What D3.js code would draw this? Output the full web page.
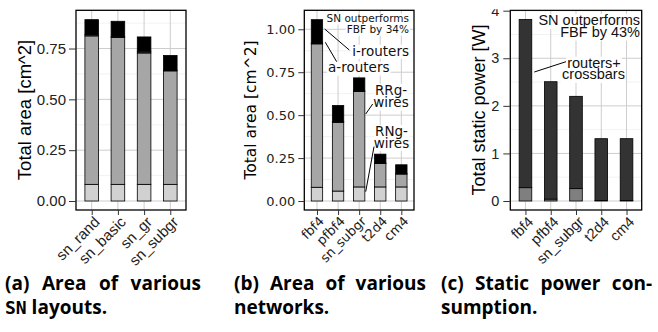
<!DOCTYPE html>
<html>
<head>
<meta charset="utf-8">
<script src="https://cdn.jsdelivr.net/npm/d3@7"></script>
<style>
  body { margin: 0; background: #fff; width: 658px; height: 332px; overflow: hidden; position: relative; }
  .cap { position: absolute; font-family: 'Open Sans', 'Noto Sans', sans-serif; font-weight: bold; font-size: 19px; line-height: 24px; color: #000; }
  .cap .l1 { text-align: justify; text-align-last: justify; white-space: nowrap; }
  .tt { font-family: 'DejaVu Sans Mono', monospace; font-size: 18px; }
</style>
</head>
<body>
<svg id="chart" width="658" height="332"></svg>
<div class="cap" style="left:5px; top:271px; width:196px"><div class="l1">(a) Area of various</div><div><span class="tt">SN</span> layouts.</div></div>
<div class="cap" style="left:234px; top:271px; width:192px"><div class="l1">(b) Area of various</div><div>networks.</div></div>
<div class="cap" style="left:441px; top:271px; width:211px"><div class="l1">(c) Static power con-</div><div>sumption.</div></div>
<script>
// (a) area of SN layouts [cm^2]
const layoutsA = ['sn_rand', 'sn_basic', 'sn_gr', 'sn_subgr']
const aRNgWires = [0.082, 0.082, 0.082, 0.082]
const aRRgWires = [0.730, 0.722, 0.646, 0.558]
const aARouters = [0.007, 0.006, 0.009, 0.003]
const aIRouters = [0.073, 0.074, 0.070, 0.073]

// (b) area of networks [cm^2]
const netsB = ['fbf4', 'pfbf4', 'sn_subgr', 't2d4', 'cm4']
const bRNgWires = [0.080, 0.058, 0.082, 0.082, 0.082]
const bRRgWires = [0.835, 0.400, 0.556, 0.137, 0.075]
const bARouters = [0.005, 0.005, 0.003, 0.002, 0.002]
const bIRouters = [0.136, 0.093, 0.076, 0.052, 0.052]

// (c) static power [W]
const netsC = ['fbf4', 'pfbf4', 'sn_subgr', 't2d4', 'cm4']
const cWires = [0.28, 0.04, 0.26, 0.01, 0.01]
const cRouters = [3.537, 2.467, 1.94, 1.30, 1.30]

const areaTicks = [0, 0.25, 0.5, 0.75, 1.0]
const areaMinor = [0.125, 0.375, 0.625, 0.875]
const powerTicks = [0, 1, 2, 3, 4]
const powerMinor = [0.5, 1.5, 2.5, 3.5]

const svg = d3.select('#chart')

function drawPanel(opt) {
    const g = svg.append('g')
    if (opt.clipTop != null) {
        const id = 'clip' + Math.round(opt.x0)
        svg.append('clipPath').attr('id', id)
            .append('rect').attr('x', opt.x0 - 80).attr('y', opt.clipTop).attr('width', 300).attr('height', 400)
        g.attr('clip-path', 'url(#' + id + ')')
    }
    const top = 10.3, bottom = 210
    const x = d3.scalePoint().domain(opt.cats).range([opt.x0, opt.x1]).padding(0.6)
    const y = d3.scaleLinear().domain(opt.yDomain).range([bottom, top])
    const bw = x.step() * opt.barFrac

    // ticks whose line falls on the panel (the top one may sit on the border)
    const inside = (v) => v >= opt.yDomain[0] && v <= opt.yDomain[1] + 0.01

    // grid
    g.selectAll('.minor').data(opt.minor.filter(inside)).enter().append('line')
        .attr('x1', opt.x0).attr('x2', opt.x1)
        .attr('y1', (d) => y(d)).attr('y2', (d) => y(d))
        .attr('stroke', '#ececec').attr('stroke-width', 0.7)
    g.selectAll('.major').data(opt.ticks.filter(inside)).enter().append('line')
        .attr('x1', opt.x0).attr('x2', opt.x1)
        .attr('y1', (d) => y(d)).attr('y2', (d) => y(d))
        .attr('stroke', '#cdcdcd').attr('stroke-width', 1)
    g.selectAll('.vgrid').data(opt.cats).enter().append('line')
        .attr('x1', (d) => x(d)).attr('x2', (d) => x(d))
        .attr('y1', top).attr('y2', bottom)
        .attr('stroke', '#cdcdcd').attr('stroke-width', 1)

    // bars
    const table = opt.cats.map((c, i) => {
        const row = { cat: c }
        opt.keys.forEach((k, j) => { row[k] = opt.series[j][i] })
        return row
    })
    const stacked = d3.stack().keys(opt.keys)(table)
    g.selectAll('.layer').data(stacked).enter().append('g')
        .attr('fill', (d, i) => opt.colors[i])
        .selectAll('rect')
        .data((d) => d)
        .enter().append('rect')
        .attr('x', (d) => x(d.data.cat) - bw / 2)
        .attr('width', bw)
        .attr('y', (d) => y(d[1]))
        .attr('height', (d) => y(d[0]) - y(d[1]))
        .attr('stroke', '#000')
        .attr('stroke-width', 0.8)

    // annotations: white label boxes first, then leader lines and text
    const ann = g.append('g').attr('font-family', opt.font)
    const boxes = ann.append('g')
    opt.lines.forEach((l) => {
        ann.append('line')
            .attr('x1', l[0]).attr('y1', l[1]).attr('x2', l[2]).attr('y2', l[3])
            .attr('stroke', '#000').attr('stroke-width', 1)
    })
    opt.labels.forEach((l) => {
        // one text element per label, one tspan per line
        const t = ann.append('text')
            .attr('text-anchor', l.anchor)
            .attr('font-size', l.size)
            .attr('fill', '#111')
        l.lines.forEach((s, i) => {
            const tsp = t.append('tspan')
                .attr('x', l.xs[i]).attr('y', l.ys[i])
                .text(s)
            const len = tsp.node().getComputedTextLength()
            const left = l.anchor === 'end' ? l.xs[i] - len : l.anchor === 'middle' ? l.xs[i] - len / 2 : l.xs[i]
            boxes.append('rect')
                .attr('x', left - 1).attr('y', l.ys[i] - l.size * 0.8)
                .attr('width', len + 2).attr('height', l.size * 1.05)
                .attr('fill', '#fff')
        })
    })

    // border
    g.append('rect')
        .attr('x', opt.x0).attr('y', top)
        .attr('width', opt.x1 - opt.x0).attr('height', bottom - top)
        .attr('fill', 'none').attr('stroke', '#000').attr('stroke-width', 1.3)

    // y axis
    const yAxis = g.append('g')
        .attr('transform', 'translate(' + opt.x0 + ',0)')
        .call(d3.axisLeft(y).tickValues(opt.ticks.filter(inside)).tickFormat(opt.fmt).tickSize(opt.tickLen).tickPadding(opt.tickPad))
    yAxis.select('.domain').remove()
    yAxis.selectAll('line').attr('stroke', '#333')
    yAxis.selectAll('text')
        .attr('font-family', opt.font).attr('font-size', opt.tickSize).attr('fill', '#222')

    // x axis
    const xAxis = g.append('g')
        .attr('transform', 'translate(0,' + bottom + ')')
        .call(d3.axisBottom(x).tickSize(5).tickFormat(''))
    xAxis.select('.domain').remove()
    xAxis.selectAll('line').attr('stroke', '#333')
    g.selectAll('.xlab').data(opt.cats).enter().append('text')
        .attr('transform', (d) => 'translate(' + (x(d) + 1) + ',215) rotate(-45)')
        .attr('dy', '0.75em')
        .attr('text-anchor', 'end')
        .attr('font-family', opt.font)
        .attr('font-size', opt.tickSize)
        .attr('fill', '#222')
        .text((d) => d)

    // y title
    g.append('text')
        .attr('transform', 'translate(' + opt.titleX + ',110) rotate(-90)')
        .attr('text-anchor', 'middle')
        .attr('dy', '0.35em')
        .attr('font-family', opt.font)
        .attr('font-size', opt.titleSize)
        .attr('fill', '#000')
        .text(opt.title)
}

drawPanel({
    cats: layoutsA, x0: 76, x1: 186, barFrac: 0.52,
    yDomain: [-0.0442, 0.938], ticks: areaTicks, minor: areaMinor,
    fmt: d3.format('.2f'),
    keys: ['rng', 'rrg', 'ar', 'ir'],
    series: [aRNgWires, aRRgWires, aARouters, aIRouters],
    colors: ['#d1d1d1', '#a6a6a6', '#262626', '#000000'],
    font: "'Liberation Sans', Arial, sans-serif", tickSize: 15, tickLen: 7, tickPad: 3,
    title: 'Total area [cm^2]', titleX: 25, titleSize: 18.5,
    lines: [], labels: []
})

drawPanel({
    cats: netsB, x0: 304.3, x1: 414, barFrac: 0.54,
    yDomain: [-0.0523, 1.1105], ticks: areaTicks, minor: areaMinor,
    fmt: d3.format('.2f'),
    keys: ['rng', 'rrg', 'ar', 'ir'],
    series: [bRNgWires, bRRgWires, bARouters, bIRouters],
    colors: ['#d1d1d1', '#a6a6a6', '#262626', '#000000'],
    font: "'DejaVu Sans', sans-serif", tickSize: 13, tickLen: 6, tickPad: 3,
    title: 'Total area [cm^2]', titleX: 251, titleSize: 15.5,
    lines: [[324.7, 29, 349.3, 50], [325.3, 42.3, 336.7, 61.7], [365.7, 114, 372.7, 104], [365.7, 191.7, 374, 146.7]],
    labels: [
        { lines: ['SN outperforms', 'FBF by 34%'], xs: [409, 409], ys: [22, 33], anchor: 'end', size: 10.5 },
        { lines: ['i-routers'], xs: [409], ys: [55.5], anchor: 'end', size: 13.5 },
        { lines: ['a-routers'], xs: [389.5], ys: [72.3], anchor: 'end', size: 13.5 },
        { lines: ['RRg-', 'wires'], xs: [391, 391], ys: [94.5, 107.3], anchor: 'middle', size: 13.5 },
        { lines: ['RNg-', 'wires'], xs: [391.5, 391.5], ys: [135.8, 147.7], anchor: 'middle', size: 13.5 }
    ]
})

drawPanel({
    cats: netsC, x0: 510.3, x1: 641.7, barFrac: 0.5, clipTop: 9.3,
    yDomain: [-0.189, 4.008], ticks: powerTicks, minor: powerMinor,
    fmt: d3.format('d'),
    keys: ['wires', 'routers'],
    series: [cWires, cRouters],
    colors: ['#7f7f7f', '#333333'],
    font: "'Liberation Sans', Arial, sans-serif", tickSize: 14.5, tickLen: 7, tickPad: 4,
    title: 'Total static power [W]', titleX: 479, titleSize: 18,
    lines: [[534.3, 72, 566, 61.7]],
    labels: [
        { lines: ['SN outperforms', 'FBF by 43%'], xs: [640, 640], ys: [25.4, 37], anchor: 'end', size: 14.5 },
        { lines: ['routers+', 'crossbars'], xs: [594, 593.5], ys: [68.3, 79.3], anchor: 'middle', size: 14.5 }
    ]
})
</script>
</body>
</html>
